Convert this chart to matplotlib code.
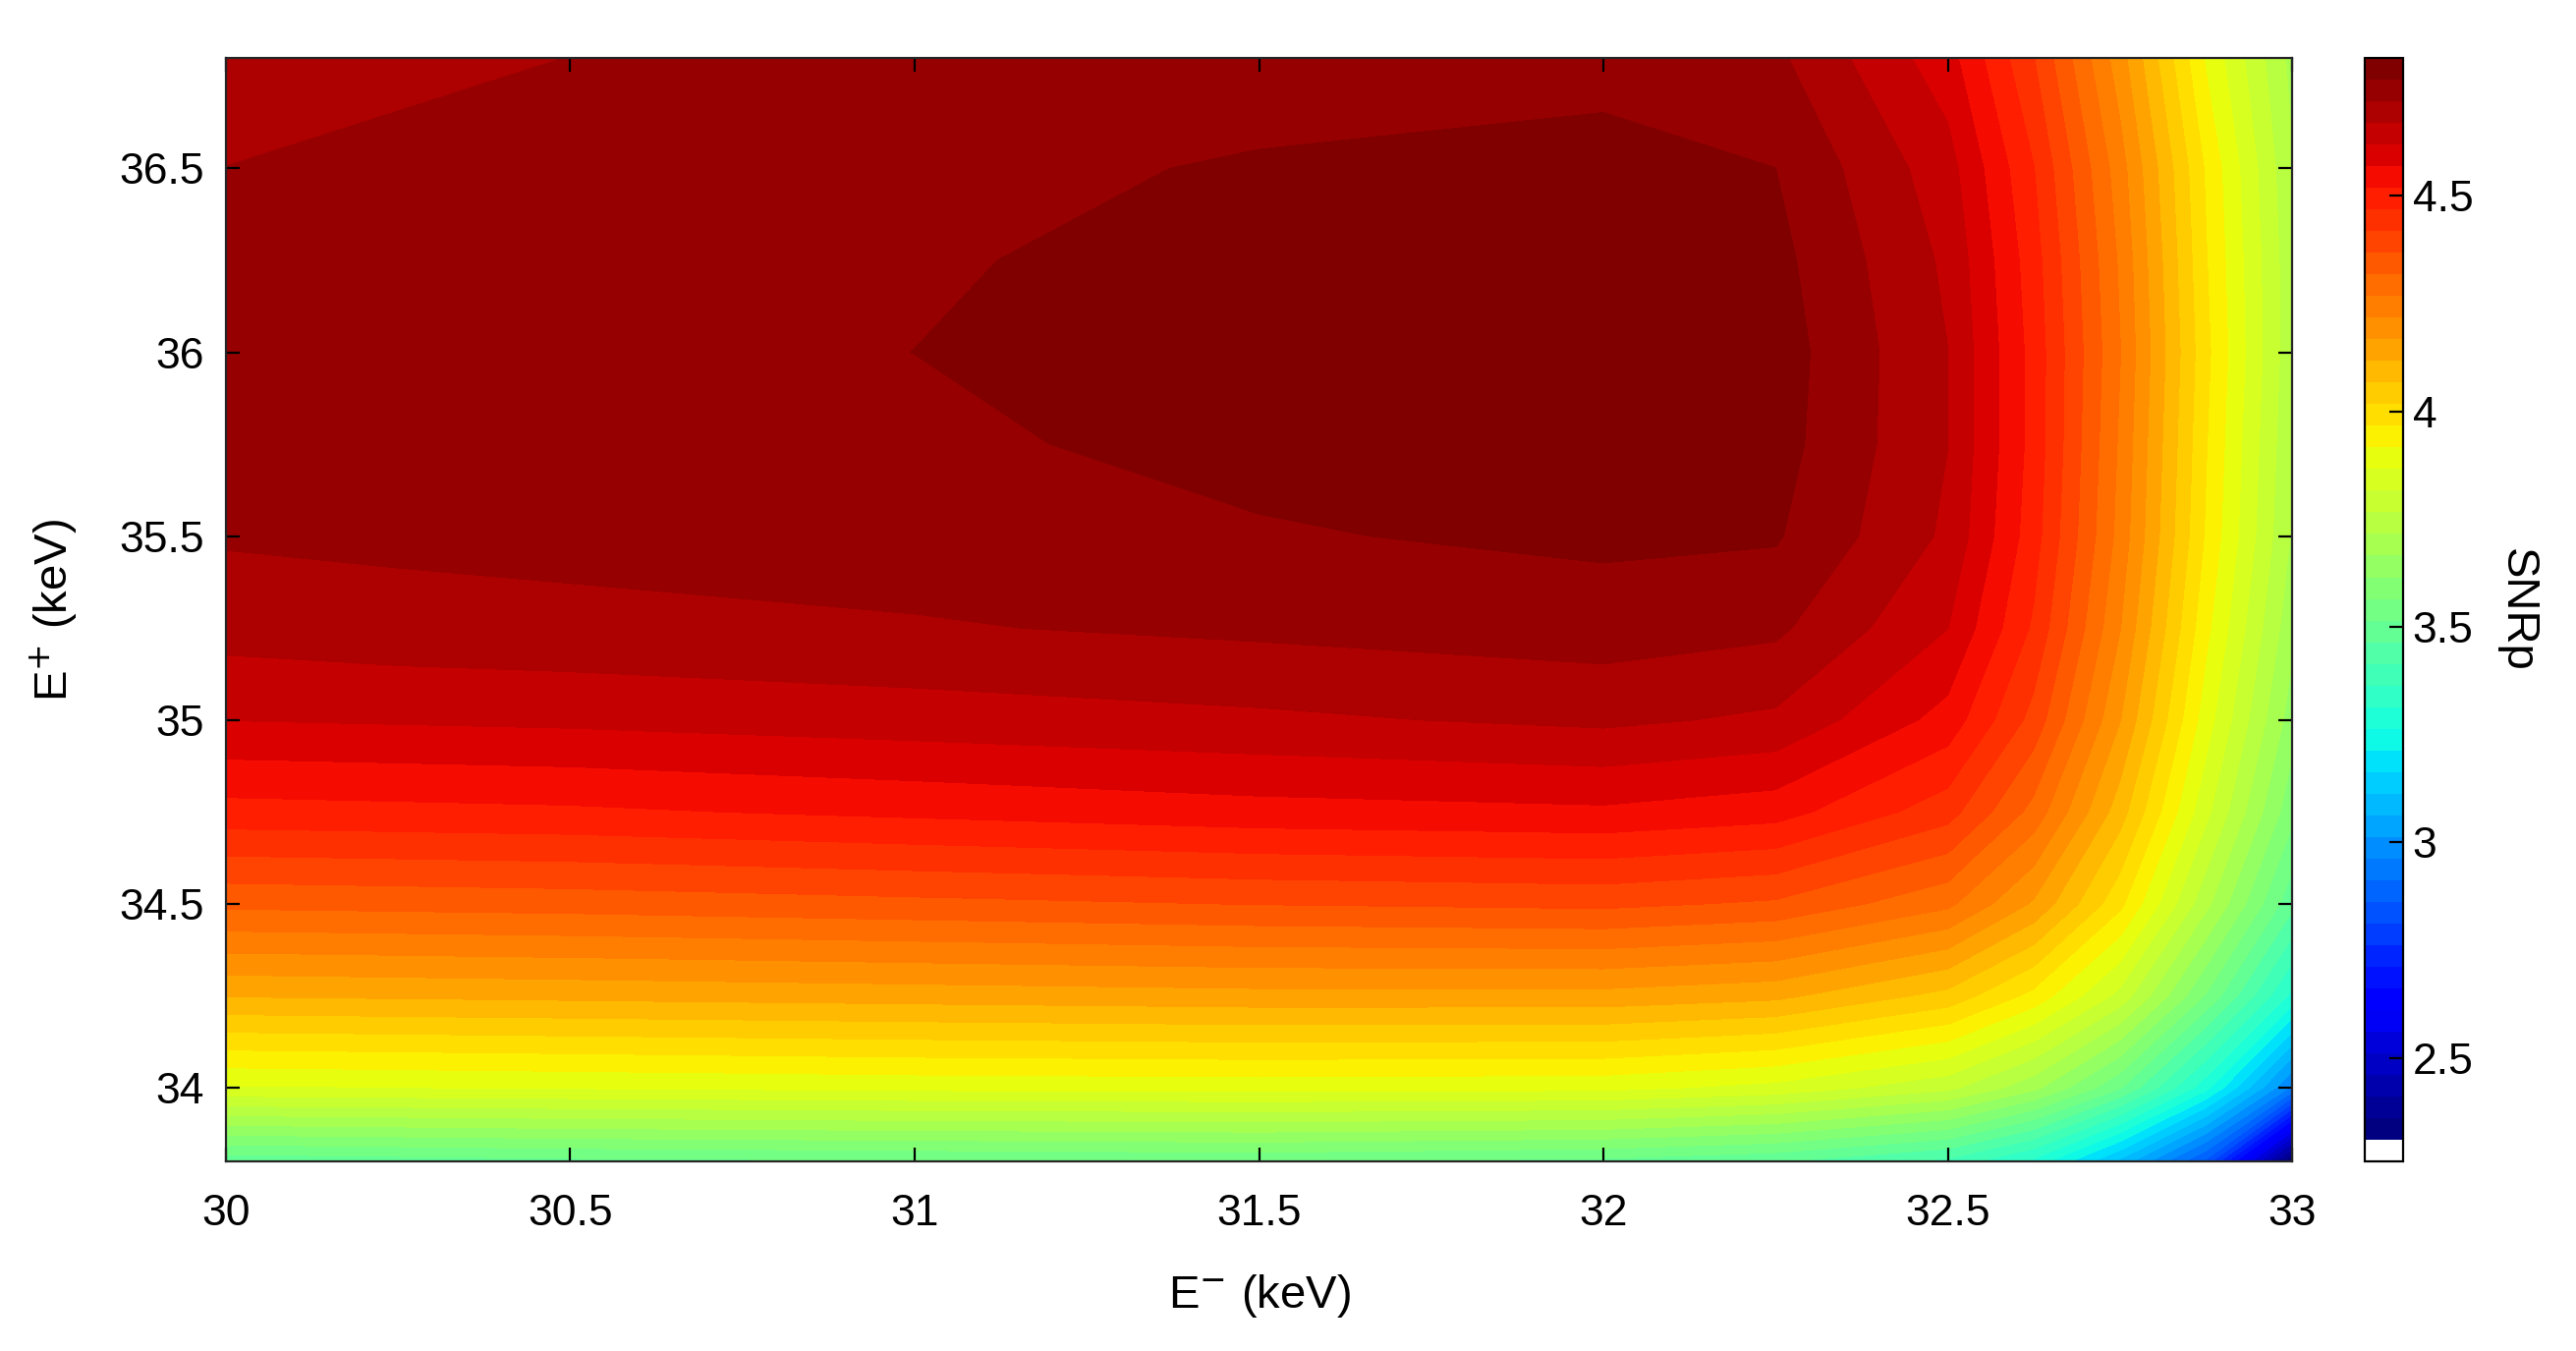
import numpy as np
import matplotlib
matplotlib.use('Agg')
import matplotlib.pyplot as plt
from matplotlib.colors import ListedColormap

plt.rcParams['font.family'] = ['Liberation Sans', 'DejaVu Sans']

# SNRp values, rows follow e_plus, columns follow e_minus
e_minus = [30, 30.25, 30.5, 31, 31.5, 32, 32.25, 32.5, 32.625, 32.75, 32.875, 33]
e_plus = [33.8, 34.0, 34.25, 34.5, 34.75, 35.0, 35.25, 35.5, 35.75, 36.0, 36.25, 36.5, 36.8]
snrp = [
    [3.48, 3.49, 3.50, 3.51, 3.52, 3.50, 3.47, 3.40, 3.30, 3.10, 2.85, 2.30],
    [3.86, 3.865, 3.87, 3.88, 3.885, 3.88, 3.85, 3.78, 3.68, 3.52, 3.28, 2.95],
    [4.12, 4.125, 4.13, 4.14, 4.15, 4.15, 4.13, 4.05, 3.95, 3.80, 3.56, 3.30],
    [4.33, 4.335, 4.34, 4.355, 4.37, 4.38, 4.36, 4.28, 4.16, 3.98, 3.73, 3.48],
    [4.50, 4.505, 4.51, 4.53, 4.55, 4.56, 4.54, 4.44, 4.30, 4.09, 3.83, 3.58],
    [4.62, 4.625, 4.63, 4.645, 4.66, 4.68, 4.66, 4.55, 4.40, 4.17, 3.89, 3.64],
    [4.69, 4.70, 4.705, 4.715, 4.73, 4.745, 4.73, 4.62, 4.46, 4.22, 3.93, 3.68],
    [4.725, 4.73, 4.735, 4.745, 4.765, 4.78, 4.775, 4.66, 4.49, 4.25, 3.96, 3.71],
    [4.74, 4.745, 4.75, 4.76, 4.785, 4.80, 4.79, 4.67, 4.50, 4.26, 3.97, 3.72],
    [4.745, 4.75, 4.755, 4.77, 4.79, 4.805, 4.795, 4.67, 4.50, 4.27, 3.98, 3.73],
    [4.735, 4.745, 4.75, 4.765, 4.785, 4.80, 4.785, 4.66, 4.49, 4.26, 3.97, 3.73],
    [4.72, 4.73, 4.74, 4.755, 4.775, 4.785, 4.77, 4.64, 4.47, 4.24, 3.96, 3.72],
    [4.70, 4.71, 4.72, 4.735, 4.745, 4.755, 4.73, 4.59, 4.42, 4.19, 3.91, 3.70],
]
cb_ticks = [2.5, 3, 3.5, 4, 4.5]

fig = plt.figure(figsize=(13.11, 6.875), dpi=200)
ax = fig.add_axes([0.0877, 0.1404, 0.8021, 0.8166])
cax = fig.add_axes([0.918, 0.1404, 0.0149, 0.8166])

# lowest band left white, like the reference colorbar
n = 50
upper = np.linspace(2.31, 4.82, n + 1)
levels = np.concatenate([[2.27], upper])
colors = np.vstack([[1, 1, 1, 1], plt.get_cmap('jet')(np.linspace(0, 1, n))])
cmap = ListedColormap(colors)

cs = ax.contourf(e_minus, e_plus, np.array(snrp), levels=levels, cmap=cmap)
ax.set_xlim(30, 33)
ax.set_ylim(33.8, 36.8)
ax.set_xticks([30, 30.5, 31, 31.5, 32, 32.5, 33])
ax.set_xticklabels(['30', '30.5', '31', '31.5', '32', '32.5', '33'])
ax.set_yticks([34, 34.5, 35, 35.5, 36, 36.5])
ax.set_yticklabels(['34', '34.5', '35', '35.5', '36', '36.5'])
ax.tick_params(direction='in', top=True, right=True, labelsize=16, length=5)
ax.tick_params(axis='x', pad=12)
ax.tick_params(axis='y', pad=8)
ax.set_xlabel('E$^{-}$ (keV)', fontsize=17, labelpad=14)
ax.set_ylabel('E$^{+}$ (keV)', fontsize=17, labelpad=14)
for s in ax.spines.values():
    s.set_color('#262626')
    s.set_linewidth(0.8)

cb = fig.colorbar(cs, cax=cax, ticks=cb_ticks)
cb.outline.set_linewidth(0.8)
cax.tick_params(direction='in', labelsize=16, length=5)
cax.set_yticklabels(['2.5', '3', '3.5', '4', '4.5'])
cb.set_label('SNRp', fontsize=17, rotation=270, labelpad=24)

fig.savefig('out.png', dpi=200)
